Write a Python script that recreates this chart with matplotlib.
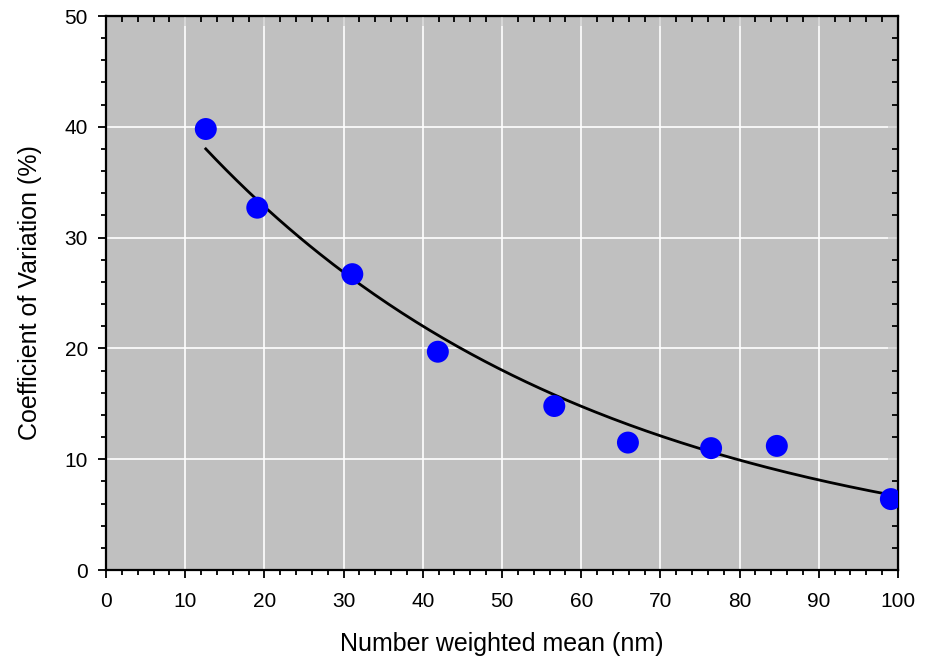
import numpy as np
import matplotlib
matplotlib.use("Agg")
import matplotlib.pyplot as plt
from matplotlib.ticker import MultipleLocator

plt.rcParams['font.family'] = ['Liberation Sans', 'DejaVu Sans']

# measured particle sizes and their spread
mean_nm = [12.6, 19.1, 31.1, 41.9, 56.6, 65.9, 76.4, 84.7, 99.1]
cv_pct = [39.8, 32.7, 26.7, 19.7, 14.8, 11.5, 11.0, 11.2, 6.4]

# exponential decay fit y = a*exp(b*x) on log scale
x = np.array(mean_nm)
y = np.array(cv_pct)
b, ln_a = np.polyfit(x, np.log(y), 1, w=np.sqrt(y))
xfit = np.linspace(x.min(), x.max(), 200)
yfit = np.exp(ln_a) * np.exp(b * xfit)

fig = plt.figure(figsize=(9.34, 6.61), dpi=100)
ax = fig.add_axes([106 / 934, 1 - 570 / 661, 792 / 934, 554 / 661])
ax.set_facecolor('#c0c0c0')

ax.grid(True, which='major', color='white', linewidth=1.2)
ax.set_axisbelow(True)

ax.plot(xfit, yfit, color='black', linewidth=2, zorder=3)
ax.scatter(x, y, s=250, color='#0000ff', edgecolors='none', zorder=4)

ax.set_xlim(0, 100)
ax.set_ylim(0, 50)
ax.xaxis.set_major_locator(MultipleLocator(10))
ax.xaxis.set_minor_locator(MultipleLocator(2))
ax.yaxis.set_major_locator(MultipleLocator(10))
ax.yaxis.set_minor_locator(MultipleLocator(2))

for s in ax.spines.values():
    s.set_linewidth(1.6)

ax.tick_params(which='both', direction='out', width=1.3, labelsize=15,
               top=False, right=False)
ax.tick_params(which='major', length=6)
ax.tick_params(which='minor', length=3.5)
ax.tick_params(axis='x', which='major', pad=10)
ax.tick_params(axis='y', which='major', pad=7)

# inward ticks on the top and right edges
ax_top = ax.secondary_xaxis('top')
ax_top.xaxis.set_major_locator(MultipleLocator(10))
ax_top.xaxis.set_minor_locator(MultipleLocator(2))
ax_top.tick_params(which='both', direction='in', width=1.3, labeltop=False)
ax_top.tick_params(which='major', length=7)
ax_top.tick_params(which='minor', length=4)
ax_right = ax.secondary_yaxis('right')
ax_right.yaxis.set_major_locator(MultipleLocator(10))
ax_right.yaxis.set_minor_locator(MultipleLocator(2))
ax_right.tick_params(which='both', direction='in', width=1.3, labelright=False)
ax_right.tick_params(which='major', length=7)
ax_right.tick_params(which='minor', length=4)

ax.set_xlabel('Number weighted mean (nm)', fontsize=18, labelpad=15)
ax.set_ylabel('Coefficient of Variation (%)', fontsize=18, labelpad=16)

fig.savefig('out.png', dpi=100)
